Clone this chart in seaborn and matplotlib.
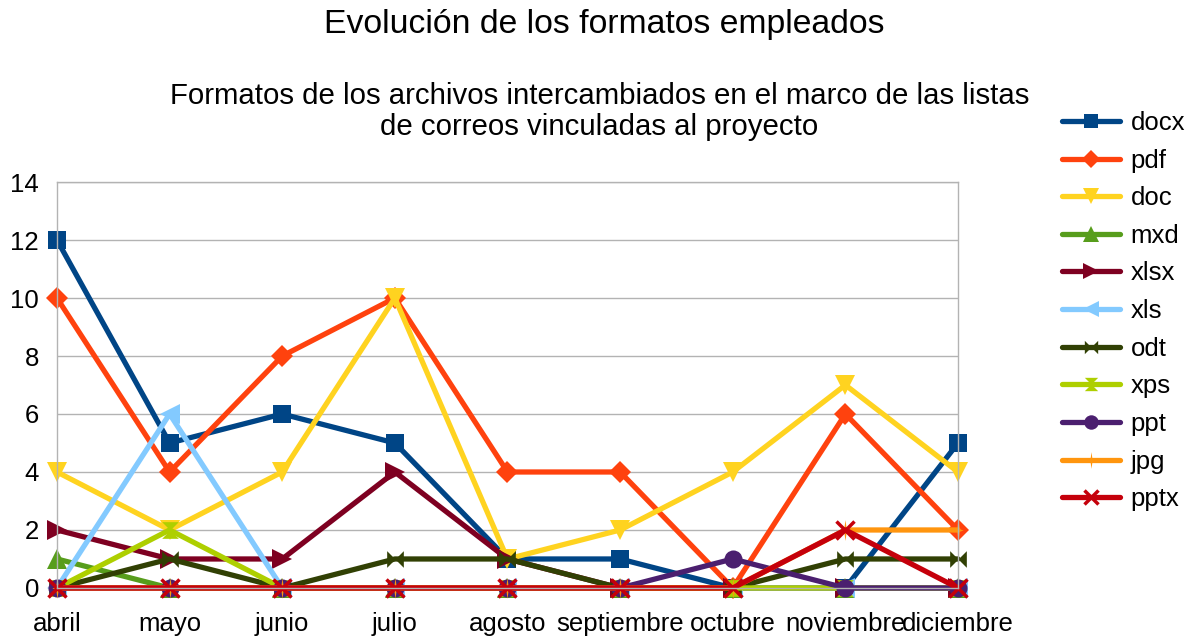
import pandas as pd
import matplotlib
matplotlib.use('Agg')
import matplotlib.pyplot as plt
import seaborn as sns

sns.set_style('white')
plt.rcParams['font.family'] = ['Liberation Sans', 'DejaVu Sans']
plt.rcParams['text.color'] = 'black'

# datos
meses = ['abril', 'mayo', 'junio', 'julio', 'agosto', 'septiembre',
         'octubre', 'noviembre', 'diciembre']
docx = [12, 5, 6, 5, 1, 1, 0, 0, 5]
pdf = [10, 4, 8, 10, 4, 4, 0, 6, 2]
doc = [4, 2, 4, 10, 1, 2, 4, 7, 4]
mxd = [1, 0, 0, 0, 0, 0, 0, 0, 0]
xlsx = [2, 1, 1, 4, 1, 0, 0, 0, 0]
xls = [0, 6, 0, 0, 0, 0, 0, 0, 0]
odt = [0, 1, 0, 1, 1, 0, 0, 1, 1]
xps = [0, 2, 0, 0, 0, 0, 0, 0, 0]
ppt = [0, 0, 0, 0, 0, 0, 1, 0, 0]
jpg = [0, 0, 0, 0, 0, 0, 0, 2, 2]
pptx = [0, 0, 0, 0, 0, 0, 0, 2, 0]

series = {'docx': docx, 'pdf': pdf, 'doc': doc, 'mxd': mxd, 'xlsx': xlsx,
          'xls': xls, 'odt': odt, 'xps': xps, 'ppt': ppt, 'jpg': jpg, 'pptx': pptx}

colores = {'docx': '#004586', 'pdf': '#ff420e', 'doc': '#ffd320', 'mxd': '#579d1c',
           'xlsx': '#7e0021', 'xls': '#83caff', 'odt': '#314004', 'xps': '#aecf00',
           'ppt': '#4b1f6f', 'jpg': '#ff950e', 'pptx': '#c5000b'}

# marcadores (bowtie / reloj de arena / estrella fina)
bowtie = [(-1, 1), (1, -1), (1, 1), (-1, -1), (-1, 1)]
hourglass = [(-1, 1), (1, 1), (-1, -1), (1, -1), (-1, 1)]
star = [(0, 1), (0.12, 0.12), (0.5, 0), (0.12, -0.12), (0, -1),
        (-0.12, -0.12), (-0.5, 0), (-0.12, 0.12), (0, 1)]
marcadores = {'docx': 's', 'pdf': 'D', 'doc': 'v', 'mxd': '^', 'xlsx': '>',
              'xls': '<', 'odt': bowtie, 'xps': hourglass, 'ppt': 'o',
              'jpg': star, 'pptx': 'x'}
tamanos = {'docx': 13, 'pdf': 11, 'doc': 14, 'mxd': 14, 'xlsx': 14, 'xls': 14,
           'odt': 12, 'xps': 12, 'ppt': 13, 'jpg': 15, 'pptx': 12.5}

fig = plt.figure(figsize=(11.92, 6.38), dpi=100)
ax = fig.add_axes([0.0478, 0.0784, 0.7559, 0.6363])

for nombre, valores in series.items():
    m = marcadores[nombre]
    sns.lineplot(x=meses, y=valores, ax=ax, sort=False, color=colores[nombre],
                 linewidth=3.8, marker=m, markersize=tamanos[nombre],
                 markeredgewidth=2.5 if m == 'x' else 0,
                 markeredgecolor=colores[nombre], label=nombre, clip_on=False)

ax.set_xlim(0, 8)
ax.set_ylim(0, 14)
ax.set_yticks(range(0, 15, 2))
ax.yaxis.grid(True, color='#b3b3b3', linewidth=1)
ax.set_axisbelow(True)
for lado in ['left', 'right', 'top', 'bottom']:
    ax.spines[lado].set_color('#b3b3b3')
    ax.spines[lado].set_linewidth(1)
ax.tick_params(axis='both', labelsize=18.5, colors='#b3b3b3', labelcolor='black',
               direction='out')
ax.tick_params(axis='y', length=9, pad=4)
ax.tick_params(axis='x', length=5, pad=12)
ax.set_xlabel('')
ax.set_ylabel('')

ax.legend(loc='upper left', bbox_to_anchor=(0.891, 0.826),
          bbox_transform=fig.transFigure, frameon=False, borderpad=0,
          borderaxespad=0, fontsize=18.5, handlelength=2.26, labelspacing=0.53,
          handletextpad=0.4, markerscale=0.8)

fig.text(0.507, 0.962, 'Evolución de los formatos empleados', ha='center',
         va='center', fontsize=24.3)
fig.text(0.503, 0.825, 'Formatos de los archivos intercambiados en el marco de las listas\n'
         'de correos vinculadas al proyecto', ha='center', va='center',
         fontsize=21.2, linespacing=1.14)

plt.savefig('out.png', dpi=100)
